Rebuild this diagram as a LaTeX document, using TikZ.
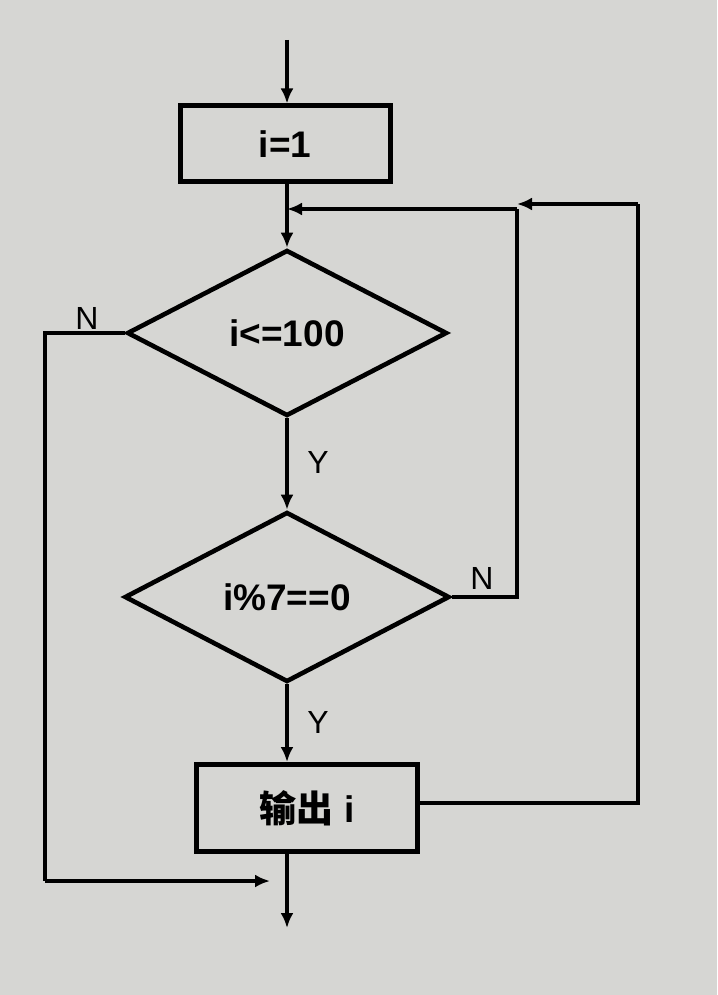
\documentclass[tikz,border=0pt]{standalone}
\usepackage{fontspec}
\setmainfont{Liberation Sans}
\newfontfamily\cjk{Noto Sans CJK SC}
\usetikzlibrary{shapes.geometric,arrows.meta,calc}
\definecolor{paper}{RGB}{214,214,211}
\begin{document}
\begin{tikzpicture}[x=1pt,y=-1pt,
  conn/.style={draw=black, line width=4.3pt, line join=miter},
  arr/.style={conn, -{Latex[length=15pt,width=13pt]}},
  procbox/.style={draw=black, line width=5pt, rectangle, inner sep=0pt, font=\fontsize{37}{40}\selectfont\bfseries},
  decide/.style={draw=black, line width=4.6pt, diamond, inner sep=0pt, font=\fontsize{37}{40}\selectfont\bfseries},
  lbl/.style={font=\fontsize{32}{35}\selectfont, inner sep=0pt}
]
\fill[paper] (0,0) rectangle (717,995);
\useasboundingbox (0,0) rectangle (717,995);

\coordinate (start) at (287,40);
\node[procbox, minimum width=210pt, minimum height=76pt] (b1) at (285,144) {i=1};
\node[decide, minimum width=320pt, minimum height=166pt] (d1) at (287,333) {i<=100};
\node[decide, minimum width=325pt, minimum height=170pt] (d2) at (287,597) {i\%7==0};
\node[procbox, minimum width=221pt, minimum height=87pt] (b2) at (307,808) {{\cjk\bfseries 输出} i};

% labels
\node[lbl] (lN1) at (87,318) {N};
\node[lbl] (lY1) at (318,462) {Y};
\node[lbl] (lN2) at (482,578) {N};
\node[lbl] (lY2) at (318,722) {Y};

% main flow
\draw[arr] (start) -- (start |- b1.north);
\draw[arr] (d1.north |- b1.south) -- (d1.north);
\draw[arr] (d1.south) -- (d2.north);
\draw[arr] (d2.south) -- (b2.north -| d2.south);
\coordinate (endpt) at (287,928);
\draw[arr] (b2.south -| endpt) -- (endpt);

% N branch of d1
\coordinate (l1) at (45,333);
\coordinate (l2) at (45,881);
\coordinate (l3) at (270,881);
\draw[conn] (d1.west) -- (l1) -- (l2);
\draw[arr] (l2) -- (l3);

% N branch of d2 (loop back)
\coordinate (n1) at (517,597);
\coordinate (n2) at (517,209);
\coordinate (n3) at (287,209);
\draw[conn] (d2.east) -- (n1) -- (n2);
\draw[arr] (n2) -- (n3);

% loop back after output
\coordinate (r1) at (638,803);
\coordinate (r2) at (638,204);
\coordinate (r3) at (517,204);
\draw[conn] (b2.east |- r1) -- (r1) -- (r2);
\draw[arr] (r2) -- (r3);
\end{tikzpicture}
\end{document}
